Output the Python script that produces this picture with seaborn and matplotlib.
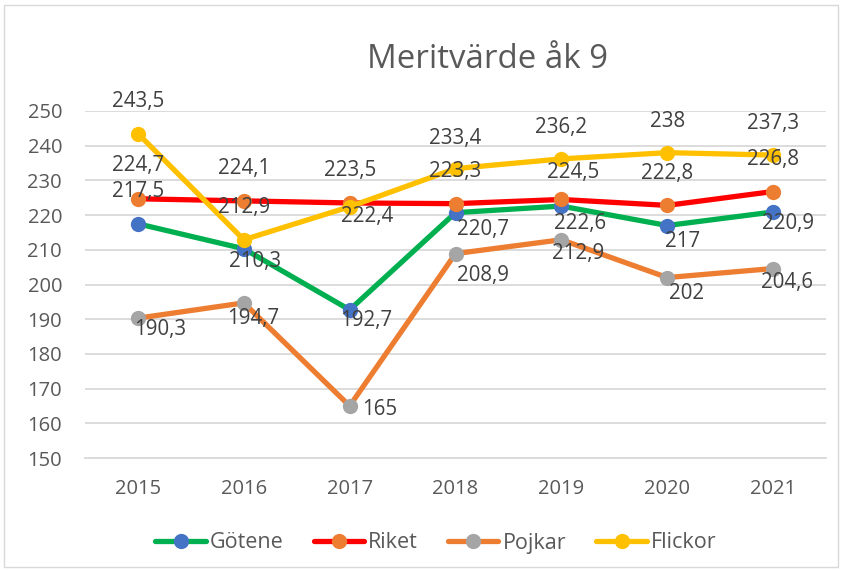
import matplotlib
matplotlib.use("Agg")
import matplotlib.pyplot as plt
import seaborn as sns
import pandas as pd
from matplotlib.patches import Rectangle

years = ["2015", "2016", "2017", "2018", "2019", "2020", "2021"]
gotene = [217.5, 210.3, 192.7, 220.7, 222.6, 217.0, 220.9]
riket = [224.7, 224.1, 223.5, 223.3, 224.5, 222.8, 226.8]
pojkar = [190.3, 194.7, 165.0, 208.9, 212.9, 202.0, 204.6]
flickor = [243.5, 212.9, 222.4, 233.4, 236.2, 238.0, 237.3]
series_names = ["Götene", "Riket", "Pojkar", "Flickor"]
title = "Meritvärde åk 9"
yticks = [150, 160, 170, 180, 190, 200, 210, 220, 230, 240, 250]

# styles
line_colors = {"Götene": "#00B050", "Riket": "#FF0000", "Pojkar": "#ED7D31", "Flickor": "#FFC000"}
marker_colors = {"Götene": "#4472C4", "Riket": "#ED7D31", "Pojkar": "#A5A5A5", "Flickor": "#FFC000"}
# label offsets in pixels (dx, dy downwards)
label_offsets = {
    "Götene": [(0, -32), (11, 13), (17, 11), (27, 17), (19, 17), (15, 16), (15, 12)],
    "Riket": [(0, -33), (0, -32), (0, -32), (0, -32), (12, -27), (0, -32), (0, -32)],
    "Pojkar": [(22, 11), (9, 16), (30, 4), (27, 22), (17, 14), (19, 16), (14, 14)],
    "Flickor": [(0, -32), (0, -32), (17, 10), (0, -30), (0, -31), (0, -31), (0, -32)],
}

values = {"Götene": gotene, "Riket": riket, "Pojkar": pojkar, "Flickor": flickor}
df = pd.DataFrame(
    [(y, n, v) for n in series_names for y, v in zip(years, values[n])],
    columns=["year", "series", "value"],
)

sns.set_theme(style="white")
plt.rcParams["font.family"] = ["Open Sans", "DejaVu Sans"]

fig = plt.figure(figsize=(8.44, 5.71), dpi=100)
ax = fig.add_axes([85 / 844, 1 - 458 / 571, 741 / 844, (458 - 111) / 571])

txt = "#595959"
for n in series_names:
    d = df[df["series"] == n]
    sns.lineplot(
        data=d, x="year", y="value", ax=ax, color=line_colors[n], linewidth=3.8,
        marker="o", markersize=11, markerfacecolor=marker_colors[n],
        markeredgecolor=marker_colors[n], markeredgewidth=0, label=n,
        sort=False,
    )

for n in series_names:
    d = df[df["series"] == n]
    for (y, v), (dx, dy) in zip(zip(d["year"], d["value"]), label_offsets[n]):
        s = f"{v:g}".replace(".", ",")
        ax.annotate(s, (y, v), xytext=(dx, -dy), textcoords="offset pixels",
                    ha="center", va="center", fontsize=14.8, color="#404040")

ax.set_xlim(-0.5, 6.5)
ax.set_ylim(150, 250)
ax.set_yticks(yticks)
ax.set_yticklabels([str(t) for t in yticks])
ax.grid(axis="y", color="#D9D9D9", linewidth=1.3)
ax.set_axisbelow(True)
for sp in ["top", "right", "left"]:
    ax.spines[sp].set_visible(False)
ax.spines["bottom"].set_color("#D9D9D9")
ax.spines["bottom"].set_linewidth(1.3)
ax.tick_params(axis="both", length=0, labelsize=14.5, labelcolor=txt)
ax.tick_params(axis="x", pad=15)
ax.tick_params(axis="y", pad=16.5)
ax.set_xlabel("")
ax.set_ylabel("")

handles, labels = ax.get_legend_handles_labels()
ax.legend_.remove()
fig.legend(handles, labels, loc="center", bbox_to_anchor=(436 / 844, 1 - 543 / 571),
           ncol=4, frameon=False, fontsize=15.5, labelcolor=txt, handlelength=2.33,
           handletextpad=0.2, columnspacing=1.4)

fig.text(487 / 844, 1 - 68 / 571, title, ha="center", va="baseline", fontsize=23.8, color=txt)

fig.patches.append(Rectangle((4 / 844, 4 / 571), 834 / 844, 562 / 571, transform=fig.transFigure,
                             fill=False, edgecolor="#D9D9D9", linewidth=1))

fig.savefig("out.png", dpi=100)
